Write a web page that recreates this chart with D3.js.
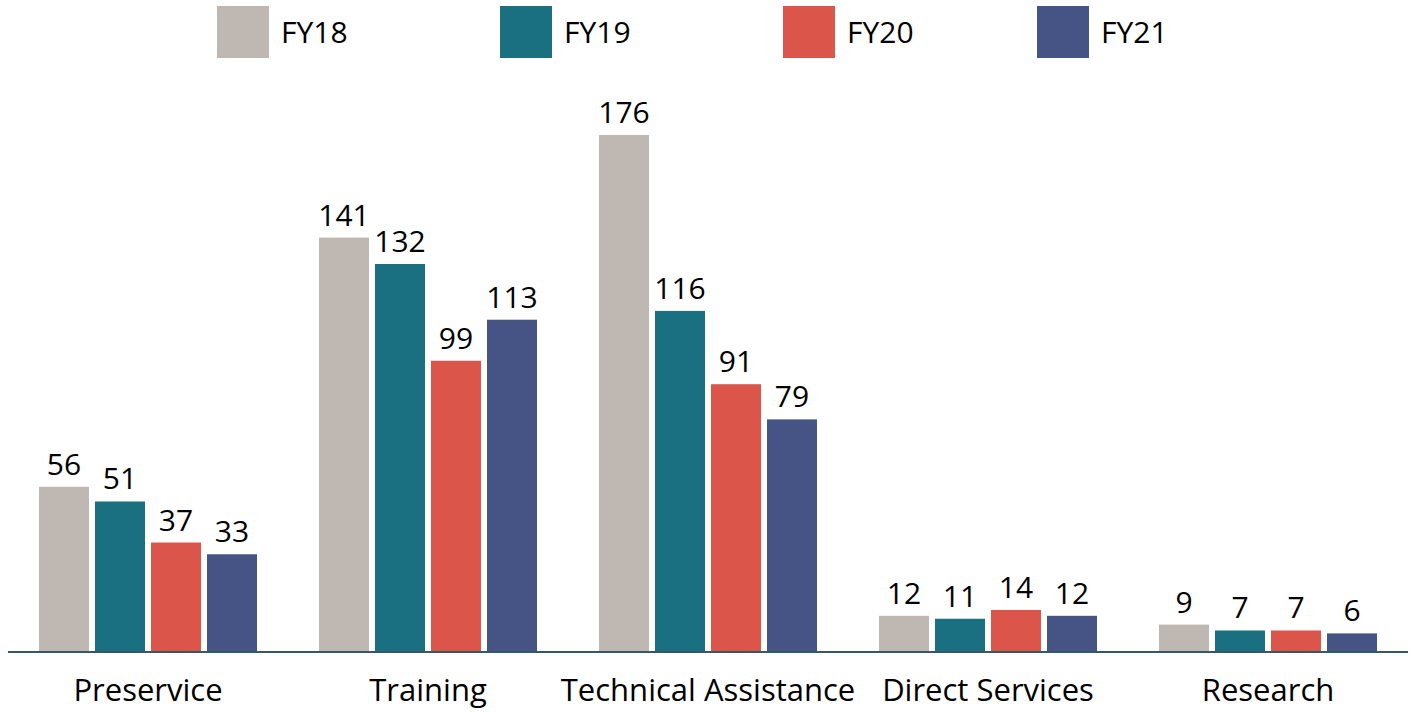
<!DOCTYPE html>
<html>
<head>
<meta charset="utf-8">
<script src="https://cdn.jsdelivr.net/npm/d3@7"></script>
<style>
  body { margin: 0; background: #fff; }
  svg text { font-family: "Open Sans", sans-serif; fill: #000; }
</style>
</head>
<body>
<svg id="chart" width="1417" height="712"></svg>
<script>
// data
var categories = ["Preservice", "Training", "Technical Assistance", "Direct Services", "Research"];
var years = ["FY18", "FY19", "FY20", "FY21"];
var fy18 = [56, 141, 176, 12, 9];
var fy19 = [51, 132, 116, 11, 7];
var fy20 = [37, 99, 91, 14, 7];
var fy21 = [33, 113, 79, 12, 6];
var colors = ["#bfb7b1", "#1a6f80", "#dc554a", "#465385"];

var series = [fy18, fy19, fy20, fy21];

var svg = d3.select("#chart");

var x0 = d3.scaleBand()
  .domain(categories)
  .range([8, 1408])
  .paddingInner(62 / 280)
  .paddingOuter(31 / 280);

var x1 = d3.scaleBand()
  .domain(years)
  .range([0, x0.bandwidth()])
  .paddingInner(6 / 56);

var y = d3.scaleLinear()
  .domain([0, 176])
  .range([651, 135]);

var color = d3.scaleOrdinal().domain(years).range(colors);

// flatten into one row per bar
var rows = [];
categories.forEach(function(c, i) {
  years.forEach(function(yr, j) {
    rows.push({ cat: c, year: yr, value: series[j][i] });
  });
});

var bars = svg.append("g");
bars.selectAll("rect")
  .data(rows)
  .enter()
  .append("rect")
  .attr("x", function(d) { return x0(d.cat) + x1(d.year); })
  .attr("y", function(d) { return y(d.value); })
  .attr("width", x1.bandwidth())
  .attr("height", function(d) { return y(0) - y(d.value); })
  .attr("fill", function(d) { return color(d.year); });

bars.selectAll("text")
  .data(rows)
  .enter()
  .append("text")
  .attr("x", function(d) { return x0(d.cat) + x1(d.year) + x1.bandwidth() / 2; })
  .attr("y", function(d) { return y(d.value) - 12; })
  .attr("text-anchor", "middle")
  .style("font-size", "30px")
  .text(function(d) { return d.value; });

// baseline
svg.append("line")
  .attr("x1", 8).attr("x2", 1408)
  .attr("y1", y(0) + 1).attr("y2", y(0) + 1)
  .attr("stroke", "#365866")
  .attr("stroke-width", 2);

// category labels
var xAxis = d3.axisBottom(x0).tickSize(0).tickPadding(0);
var ax = svg.append("g")
  .attr("transform", "translate(0," + 701 + ")")
  .call(xAxis);
ax.select(".domain").remove();
ax.selectAll("text")
  .attr("dy", 0)
  .attr("y", 0)
  .style("font-size", "31px")
  .style("font-family", "Open Sans, sans-serif")
  .attr("fill", "#000");

// legend
var legendX = [217, 500, 783, 1037];
var legend = svg.append("g").selectAll("g")
  .data(years)
  .enter()
  .append("g")
  .attr("transform", function(d, i) { return "translate(" + legendX[i] + ",6)"; });

legend.append("rect")
  .attr("width", 52)
  .attr("height", 52)
  .attr("fill", function(d) { return color(d); });

legend.append("text")
  .attr("x", 64)
  .attr("y", 37)
  .style("font-size", "30px")
  .text(function(d) { return d; });
</script>
</body>
</html>
